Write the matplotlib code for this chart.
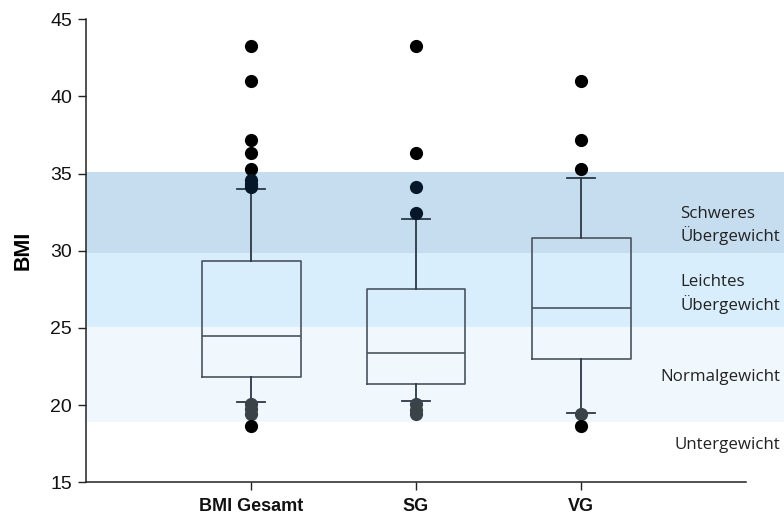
import matplotlib
matplotlib.use("Agg")
import matplotlib.pyplot as plt
from matplotlib.transforms import blended_transform_factory

# Group labels
groups = ["BMI Gesamt", "SG", "VG"]

# Box statistics per group
q1 = [21.8, 21.35, 23.0]
median = [24.5, 23.35, 26.3]
q3 = [29.35, 27.5, 30.8]
whisker_low = [20.2, 20.3, 19.5]
whisker_high = [34.0, 32.05, 34.7]

# Outlying observations per group
outliers_gesamt = [43.27, 41.0, 37.2, 36.33, 35.28, 34.6, 34.35, 34.15, 20.05, 19.75, 19.45, 18.68]
outliers_sg = [43.27, 36.33, 34.15, 32.47, 20.1, 19.7, 19.4]
outliers_vg = [41.0, 37.2, 35.28, 19.42, 18.68]

# BMI classification bands (lower, upper) and their labels
band_limits = [(18.92, 25.08), (25.08, 29.88), (29.88, 35.12)]
band_colors = ["#f0f8fd", "#d8eefc", "#c6ddf0"]
band_labels = ["Untergewicht", "Normalgewicht", "Leichtes\nÜbergewicht", "Schweres\nÜbergewicht"]
band_label_y = [17.4, 21.8, 27.2, 31.65]

fig = plt.figure(figsize=(7.84, 5.17), dpi=100)
ax = fig.add_axes([86 / 784, 1 - 482.3 / 517, 660 / 784, 463 / 517])

# Shaded bands run from the y axis to the right edge of the figure
span_right = (784 - 86) / 660
for (lo, hi), col in zip(band_limits, band_colors):
    r = ax.axhspan(lo, hi, xmin=0, xmax=span_right, facecolor=col, edgecolor="none", zorder=0)
    r.set_clip_on(False)

stats = []
for i, name in enumerate(groups):
    stats.append(dict(label=name, q1=q1[i], med=median[i], q3=q3[i],
                      whislo=whisker_low[i], whishi=whisker_high[i], fliers=[]))

line_col = "#4a545e"
ax.bxp(stats, positions=[1, 2, 3], widths=0.6, capwidths=0.17, showfliers=False,
       patch_artist=False,
       boxprops=dict(color=line_col, linewidth=1.2),
       medianprops=dict(color=line_col, linewidth=1.2),
       whiskerprops=dict(color="#2b3846", linewidth=1.3),
       capprops=dict(color="#2b3846", linewidth=1.3),
       manage_ticks=False, zorder=2)


def dot_color(v):
    if band_limits[2][0] <= v <= band_limits[2][1]:
        return "#06172a"
    if band_limits[0][0] <= v <= band_limits[0][1]:
        return "#3a4448"
    return "black"


for pos, vals in zip([1, 2, 3], [outliers_gesamt, outliers_sg, outliers_vg]):
    for v in vals:
        ax.plot([pos], [v], marker="o", markersize=9.5, color=dot_color(v),
                markeredgewidth=0, linestyle="none", zorder=3)

ax.set_xlim(0, 4)
ax.set_ylim(15, 45)
ax.set_yticks([15, 20, 25, 30, 35, 40, 45])
ax.set_xticks([1, 2, 3])
ax.set_xticklabels(groups, fontsize=13, fontweight="bold", family="Liberation Sans")
for lab in ax.get_yticklabels():
    lab.set_family("Liberation Sans")
    lab.set_fontsize(14)
ax.tick_params(axis="both", direction="out", length=6, width=1, color="#222222",
               labelcolor="#111111")
ax.tick_params(axis="x", pad=5)
ax.tick_params(axis="y", pad=4)
for s in ["top", "right"]:
    ax.spines[s].set_visible(False)
for s in ["left", "bottom"]:
    ax.spines[s].set_color("#222222")
    ax.spines[s].set_linewidth(1.1)
ax.set_facecolor("none")

ax.set_ylabel("BMI", fontsize=15.5, fontweight="bold", family="Liberation Sans", labelpad=12)

trans = blended_transform_factory(fig.transFigure, ax.transData)
for txt, y in zip(band_labels, band_label_y):
    ax.text(780 / 784, y, txt, transform=trans, ha="right", va="center",
            multialignment="left", fontsize=12.2, family="Open Sans",
            color="#222222", linespacing=1.3, clip_on=False)

fig.savefig("out.png", dpi=100)
